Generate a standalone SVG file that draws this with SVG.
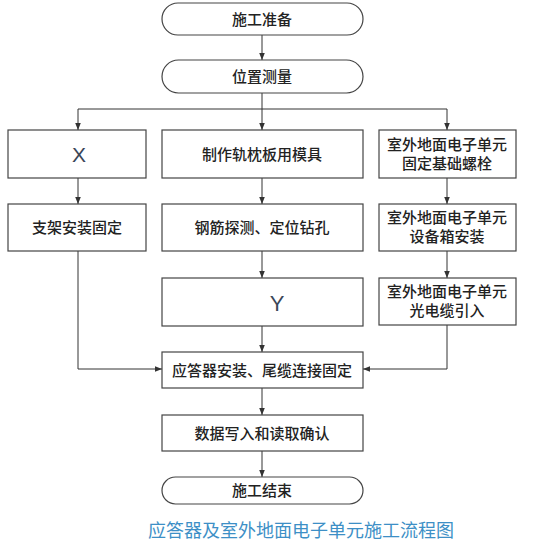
<svg xmlns="http://www.w3.org/2000/svg" width="553" height="546" viewBox="0 0 553 546">
<defs>
<marker id="ah" markerWidth="8" markerHeight="8" refX="7" refY="4" orient="auto" markerUnits="userSpaceOnUse">
<path d="M0,1.2 L7,4 L0,6.8 Z" fill="#333"/>
</marker>
<style>
.box{fill:#fff;stroke:#444;stroke-width:1.2}
.t{font-family:"Noto Sans CJK SC","Liberation Sans",sans-serif;font-size:15px;font-weight:500;fill:#222;text-anchor:middle}
.l{font-family:"Liberation Sans",sans-serif;fill:#3a4658;text-anchor:middle}
.c{fill:none;stroke:#333;stroke-width:1}
.cap{font-family:"Noto Sans CJK SC",sans-serif;font-size:18px;fill:#3d8fc6;text-anchor:middle}
</style>
</defs>
<rect width="553" height="546" fill="#fff"/>
<g id="connectors">
<path class="c" d="M262,35 V60" marker-end="url(#ah)"/>
<path class="c" d="M262,93 V109 M78,109 H447"/>
<path class="c" d="M78,109 V130" marker-end="url(#ah)"/>
<path class="c" d="M262,109 V130" marker-end="url(#ah)"/>
<path class="c" d="M447,109 V130" marker-end="url(#ah)"/>
<path class="c" d="M78,178 V204" marker-end="url(#ah)"/>
<path class="c" d="M262,178 V204" marker-end="url(#ah)"/>
<path class="c" d="M447,178 V204" marker-end="url(#ah)"/>
<path class="c" d="M262,251 V278" marker-end="url(#ah)"/>
<path class="c" d="M447,251 V278" marker-end="url(#ah)"/>
<path class="c" d="M78,251 V369 H162" marker-end="url(#ah)"/>
<path class="c" d="M447,325 V369 H363" marker-end="url(#ah)"/>
<path class="c" d="M262,326 V352" marker-end="url(#ah)"/>
<path class="c" d="M262,388 V415" marker-end="url(#ah)"/>
<path class="c" d="M262,451 V477" marker-end="url(#ah)"/>
</g>
<g id="start"><rect class="box" x="162" y="3" width="201" height="32" rx="16"/><text class="t" x="262" y="24.5">施工准备</text></g>
<g id="survey"><rect class="box" x="162" y="60" width="201" height="33" rx="16.5"/><text class="t" x="262" y="82">位置测量</text></g>
<g id="x"><rect class="box" x="8" y="130" width="138" height="48"/><text class="l" x="79" y="162" font-size="21">X</text></g>
<g id="mould"><rect class="box" x="162" y="130" width="201" height="48"/><text class="t" x="262" y="159.5">制作轨枕板用模具</text></g>
<g id="bolt"><rect class="box" x="379" y="130" width="137" height="48"/><text class="t" x="447" y="149.5">室外地面电子单元</text><text class="t" x="447" y="168.5">固定基础螺栓</text></g>
<g id="bracket"><rect class="box" x="8" y="204" width="138" height="47"/><text class="t" x="77" y="233">支架安装固定</text></g>
<g id="drill"><rect class="box" x="162" y="204" width="201" height="47"/><text class="t" x="262" y="233">钢筋探测、定位钻孔</text></g>
<g id="cabinet"><rect class="box" x="379" y="204" width="137" height="47"/><text class="t" x="447" y="223">室外地面电子单元</text><text class="t" x="447" y="242">设备箱安装</text></g>
<g id="y"><rect class="box" x="162" y="278" width="201" height="48"/><text class="l" x="277" y="311" font-size="22">Y</text></g>
<g id="cable"><rect class="box" x="379" y="278" width="137" height="47"/><text class="t" x="447" y="297">室外地面电子单元</text><text class="t" x="447" y="316">光电缆引入</text></g>
<g id="install"><rect class="box" x="162" y="352" width="201" height="36"/><text class="t" x="262" y="375.5">应答器安装、尾缆连接固定</text></g>
<g id="data"><rect class="box" x="162" y="415" width="201" height="36"/><text class="t" x="262" y="438.5">数据写入和读取确认</text></g>
<g id="end"><rect class="box" x="162" y="477" width="201" height="27" rx="13.5"/><text class="t" x="262" y="496">施工结束</text></g>
<text class="cap" x="301" y="537">应答器及室外地面电子单元施工流程图</text>
</svg>
